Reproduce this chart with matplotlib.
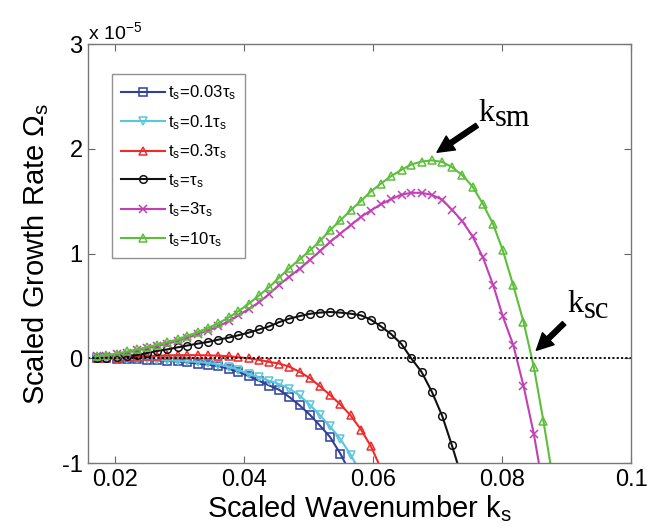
import matplotlib
matplotlib.use("Agg")
import matplotlib.pyplot as plt

plt.rcParams['font.family'] = ['Liberation Sans', 'DejaVu Sans']
plt.rcParams['mathtext.fontset'] = 'custom'
plt.rcParams['mathtext.rm'] = 'Liberation Sans'
plt.rcParams['mathtext.it'] = 'Liberation Sans:italic'

# scaled wavenumber k_s (marker positions)
k = [0.0171, 0.0186, 0.0202, 0.0218, 0.0234, 0.0249, 0.0265, 0.0281, 0.0297,
     0.0312, 0.0328, 0.0344, 0.0360, 0.0376, 0.0391, 0.0407, 0.0423, 0.0439,
     0.0454, 0.0470, 0.0486, 0.0502, 0.0517, 0.0533, 0.0549, 0.0565, 0.0581,
     0.0596, 0.0612, 0.0628, 0.0644, 0.0659, 0.0675, 0.0691, 0.0707, 0.0722,
     0.0738, 0.0754, 0.0770, 0.0786, 0.0801, 0.0817, 0.0833, 0.0849, 0.0864,
     0.0880]

# scaled growth rate, in units of 1e-5
om_003 = [0, 0, -0.005, -0.01, -0.01, -0.015, -0.02, -0.025, -0.03, -0.04,
          -0.05, -0.06, -0.075, -0.1, -0.13, -0.17, -0.215, -0.26, -0.3, -0.37,
          -0.45, -0.54, -0.64, -0.75, -0.91, -1.1]
om_01 = [0, 0, -0.005, -0.005, -0.01, -0.01, -0.015, -0.02, -0.025, -0.03,
         -0.035, -0.045, -0.06, -0.08, -0.11, -0.15, -0.18, -0.215, -0.245,
         -0.29, -0.355, -0.445, -0.54, -0.65, -0.77, -0.92, -1.1]
om_03 = [0, 0, 0.005, 0.01, 0.015, 0.02, 0.025, 0.028, 0.03, 0.03, 0.03,
         0.028, 0.025, 0.02, 0.01, 0.0, -0.015, -0.035, -0.05, -0.08, -0.13,
         -0.19, -0.265, -0.35, -0.44, -0.545, -0.68, -0.835, -1.05]
om_1 = [0.0, 0.005, 0.01, 0.02, 0.03, 0.05, 0.07, 0.085, 0.105, 0.122, 0.14,
        0.156, 0.178, 0.197, 0.22, 0.245, 0.275, 0.305, 0.345, 0.378, 0.403,
        0.425, 0.436, 0.442, 0.436, 0.426, 0.41, 0.37, 0.305, 0.23, 0.135,
        0.0, -0.13, -0.32, -0.55, -0.83, -1.15]
om_3 = [0.02, 0.025, 0.04, 0.055, 0.075, 0.095, 0.115, 0.14, 0.165, 0.195,
        0.23, 0.265, 0.305, 0.355, 0.41, 0.47, 0.535, 0.615, 0.70, 0.78,
        0.855, 0.94, 1.02, 1.11, 1.19, 1.27, 1.35, 1.41, 1.47, 1.52, 1.563,
        1.58, 1.58, 1.56, 1.515, 1.42, 1.31, 1.165, 0.965, 0.70, 0.40, 0.13,
        -0.26, -0.72, -1.25]
om_10 = [0.02, 0.03, 0.045, 0.065, 0.085, 0.105, 0.13, 0.155, 0.18, 0.215,
         0.25, 0.29, 0.335, 0.39, 0.45, 0.52, 0.60, 0.68, 0.77, 0.86, 0.945,
         1.03, 1.117, 1.222, 1.317, 1.413, 1.502, 1.59, 1.668, 1.74, 1.80,
         1.85, 1.878, 1.89, 1.875, 1.826, 1.75, 1.64, 1.475, 1.28, 1.03, 0.70,
         0.35, -0.08, -0.6, -1.2]

labels = [r'$\mathregular{t_s\!=\!0.03τ_s}$', r'$\mathregular{t_s\!=\!0.1τ_s}$',
          r'$\mathregular{t_s\!=\!0.3τ_s}$', r'$\mathregular{t_s\!=\!τ_s}$',
          r'$\mathregular{t_s\!=\!3τ_s}$', r'$\mathregular{t_s\!=\!10τ_s}$']
series = [om_003, om_01, om_03, om_1, om_3, om_10]
colors = ['#2e3f9e', '#5bc6dc', '#ee2b2b', '#111111', '#c23fb5', '#5cbf3a']
markers = ['s', 'v', '^', 'o', 'x', '^']

fig = plt.figure(figsize=(6.48, 5.31), dpi=100)
ax = fig.add_axes([0.136, 0.128, 0.838, 0.789])

for ys, c, m, lab in zip(series, colors, markers, labels):
    ax.plot(k[:len(ys)], ys, color=c, marker=m, markersize=5.5, lw=1.5,
            markerfacecolor='none', markeredgecolor=c, markeredgewidth=1.1,
            label=lab)

ax.axhline(0, color='k', ls=(0, (1.2, 1.2)), lw=1.3)

ax.set_xlim(0.0158, 0.1)
ax.set_ylim(-1, 3)
ax.set_xticks([0.02, 0.04, 0.06, 0.08, 0.1])
ax.set_xticklabels(['0.02', '0.04', '0.06', '0.08', '0.1'])
ax.set_yticks([-1, 0, 1, 2, 3])
ax.set_yticklabels(['-1', '0', '1', '2', '3'])
ax.tick_params(direction='in', length=5, width=0.8, color='#666666',
               labelsize=17, top=True, right=True, pad=4)
for sp in ax.spines.values():
    sp.set_color('#777777')
    sp.set_linewidth(1.0)

ax.set_xlabel(r'Scaled Wavenumber $\mathregular{k_s}$', fontsize=21, labelpad=2)
ax.set_ylabel(r'Scaled Growth Rate $\mathregular{Ω_s}$', fontsize=21, labelpad=8)
ax.text(0.0, 1.012, r'x 10$^{\mathregular{-5}}$', transform=ax.transAxes,
        fontsize=14, va='baseline', ha='left')

leg = ax.legend(loc='upper left', bbox_to_anchor=(0.044, 0.928), fontsize=12,
                handlelength=2.6, handletextpad=0.2, labelspacing=0.65,
                borderpad=0.55, frameon=True, fancybox=False, borderaxespad=0)
leg.get_frame().set_edgecolor('#777777')
leg.get_frame().set_linewidth(1.0)

# annotations
arrow = dict(facecolor='black', edgecolor='black', width=3.5, headwidth=12,
             headlength=12, shrink=0)
ax.annotate('', xy=(0.0699, 1.967), xytext=(0.0761, 2.224), arrowprops=arrow)
ax.annotate('', xy=(0.0853, 0.076), xytext=(0.0896, 0.334), arrowprops=arrow)
ax.text(0.0763, 2.27, 'k', family='Liberation Serif', fontsize=23, va='baseline')
ax.text(0.0789, 2.215, 'sm', family='Liberation Serif', fontsize=22, va='baseline')
ax.text(0.0901, 0.442, 'k', family='Liberation Serif', fontsize=23, va='baseline')
ax.text(0.0927, 0.382, 'sc', family='Liberation Serif', fontsize=22, va='baseline')

fig.savefig('out.png', dpi=100)
